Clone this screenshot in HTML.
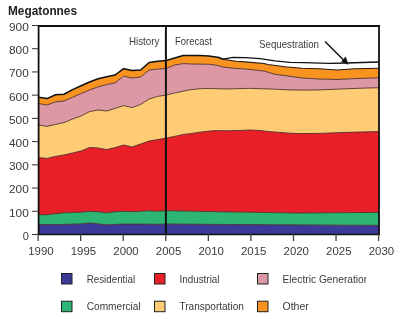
<!DOCTYPE html>
<html><head><meta charset="utf-8"><style>
html,body{margin:0;padding:0;background:#fff;width:400px;height:319px;overflow:hidden}
svg{display:block;will-change:transform}
.t{font-family:"Liberation Sans",sans-serif;font-size:11px;fill:#3a3a3a}
.b{font-family:"Liberation Sans",sans-serif;font-size:12px;font-weight:bold;fill:#222}
</style></head><body>
<svg width="400" height="319" viewBox="0 0 400 319">
<rect width="400" height="319" fill="#fff"/>
<polygon points="38.50,97.20 47.01,98.60 55.52,94.80 64.04,94.30 72.55,89.60 81.06,85.80 89.57,82.00 98.09,78.80 106.60,76.80 115.11,75.00 123.62,68.70 132.14,70.60 140.65,70.00 149.16,62.50 157.67,61.30 166.19,60.60 174.70,58.00 183.21,55.40 191.72,55.40 200.24,55.50 208.75,55.90 214.00,56.70 219.00,57.50 223.00,59.30 236.00,61.30 245.00,61.90 264.00,63.50 268.00,64.50 285.00,66.70 302.00,68.30 319.00,68.80 337.00,70.00 355.00,68.80 379.00,68.30 379.00,77.80 355.00,78.60 337.00,79.50 319.00,79.00 302.00,78.00 285.00,75.60 275.00,74.30 264.00,71.00 245.00,69.00 236.00,68.50 223.00,67.00 218.00,65.50 214.00,64.80 208.75,64.30 191.72,64.00 183.21,63.60 174.70,65.00 166.19,68.40 157.67,69.10 149.16,70.00 140.65,77.00 132.14,78.00 123.62,76.20 115.11,82.80 106.60,84.60 98.09,86.80 89.57,90.00 81.06,93.50 72.55,97.30 64.04,101.00 55.52,101.80 47.01,105.00 38.50,103.60" fill="#f7931e"/><polygon points="38.50,103.60 47.01,105.00 55.52,101.80 64.04,101.00 72.55,97.30 81.06,93.50 89.57,90.00 98.09,86.80 106.60,84.60 115.11,82.80 123.62,76.20 132.14,78.00 140.65,77.00 149.16,70.00 157.67,69.10 166.19,68.40 174.70,65.00 183.21,63.60 191.72,64.00 208.75,64.30 214.00,64.80 218.00,65.50 223.00,67.00 236.00,68.50 245.00,69.00 264.00,71.00 275.00,74.30 285.00,75.60 302.00,78.00 319.00,79.00 337.00,79.50 355.00,78.60 379.00,77.80 379.00,87.70 355.00,88.40 337.00,89.20 320.00,89.90 305.00,90.10 290.00,89.90 275.00,89.20 251.31,88.40 246.00,88.40 226.00,89.00 208.75,88.50 200.24,88.70 190.00,89.80 183.21,91.20 174.70,93.00 166.19,95.00 157.67,96.40 149.16,99.00 140.65,104.40 132.14,107.60 123.62,105.60 115.11,108.40 106.60,111.00 98.09,110.00 89.57,111.60 81.06,116.00 72.55,119.00 64.04,122.60 55.52,124.40 47.01,126.40 38.50,125.00" fill="#dd98a5"/><polygon points="38.50,125.00 47.01,126.40 55.52,124.40 64.04,122.60 72.55,119.00 81.06,116.00 89.57,111.60 98.09,110.00 106.60,111.00 115.11,108.40 123.62,105.60 132.14,107.60 140.65,104.40 149.16,99.00 157.67,96.40 166.19,95.00 174.70,93.00 183.21,91.20 190.00,89.80 200.24,88.70 208.75,88.50 226.00,89.00 246.00,88.40 251.31,88.40 275.00,89.20 290.00,89.90 305.00,90.10 320.00,89.90 337.00,89.20 355.00,88.40 379.00,87.70 379.00,131.60 360.00,132.00 340.00,132.60 320.00,133.40 300.00,133.60 290.00,133.20 280.00,132.40 270.00,131.70 260.00,130.50 250.00,130.00 240.00,130.50 225.00,130.80 216.00,130.60 210.00,131.00 200.00,132.20 190.00,133.70 183.21,134.40 174.70,136.40 166.19,138.00 157.67,139.60 149.16,141.00 140.65,144.00 132.14,147.00 123.62,145.00 115.11,147.60 106.60,149.60 98.09,148.00 89.57,147.40 81.06,151.00 72.55,153.00 64.04,155.00 55.52,156.40 47.01,158.40 38.50,157.60" fill="#fecc75"/><polygon points="38.50,157.60 47.01,158.40 55.52,156.40 64.04,155.00 72.55,153.00 81.06,151.00 89.57,147.40 98.09,148.00 106.60,149.60 115.11,147.60 123.62,145.00 132.14,147.00 140.65,144.00 149.16,141.00 157.67,139.60 166.19,138.00 174.70,136.40 183.21,134.40 190.00,133.70 200.00,132.20 210.00,131.00 216.00,130.60 225.00,130.80 240.00,130.50 250.00,130.00 260.00,130.50 270.00,131.70 280.00,132.40 290.00,133.20 300.00,133.60 320.00,133.40 340.00,132.60 360.00,132.00 379.00,131.60 379.00,212.40 296.00,213.00 216.00,211.70 186.00,211.00 166.00,210.70 156.00,211.30 149.16,210.70 140.65,211.30 132.14,211.70 123.62,211.30 115.11,211.70 106.60,212.80 98.09,211.70 89.57,211.30 81.06,212.20 72.55,212.50 64.04,212.80 55.52,213.70 47.01,214.70 38.50,214.70" fill="#e91f27"/><polygon points="38.50,214.70 47.01,214.70 55.52,213.70 64.04,212.80 72.55,212.50 81.06,212.20 89.57,211.30 98.09,211.70 106.60,212.80 115.11,211.70 123.62,211.30 132.14,211.70 140.65,211.30 149.16,210.70 156.00,211.30 166.00,210.70 186.00,211.00 216.00,211.70 296.00,213.00 379.00,212.40 379.00,225.40 296.00,224.90 216.00,224.40 166.00,224.00 156.00,224.30 140.65,224.10 123.62,224.10 106.60,224.80 89.57,223.00 81.06,223.90 64.04,224.40 38.50,224.70" fill="#2db574"/><polygon points="38.50,224.70 64.04,224.40 81.06,223.90 89.57,223.00 106.60,224.80 123.62,224.10 140.65,224.10 156.00,224.30 166.00,224.00 216.00,224.40 296.00,224.90 379.00,225.40 379.00,234.50 38.60,234.50" fill="#3b3a98"/><polyline points="38.50,224.70 64.04,224.40 81.06,223.90 89.57,223.00 106.60,224.80 123.62,224.10 140.65,224.10 156.00,224.30 166.00,224.00 216.00,224.40 296.00,224.90 379.00,225.40" fill="none" stroke="#4a2a24" stroke-width="0.95" stroke-opacity="0.9"/><polyline points="38.50,214.70 47.01,214.70 55.52,213.70 64.04,212.80 72.55,212.50 81.06,212.20 89.57,211.30 98.09,211.70 106.60,212.80 115.11,211.70 123.62,211.30 132.14,211.70 140.65,211.30 149.16,210.70 156.00,211.30 166.00,210.70 186.00,211.00 216.00,211.70 296.00,213.00 379.00,212.40" fill="none" stroke="#4a2a24" stroke-width="0.95" stroke-opacity="0.9"/><polyline points="38.50,157.60 47.01,158.40 55.52,156.40 64.04,155.00 72.55,153.00 81.06,151.00 89.57,147.40 98.09,148.00 106.60,149.60 115.11,147.60 123.62,145.00 132.14,147.00 140.65,144.00 149.16,141.00 157.67,139.60 166.19,138.00 174.70,136.40 183.21,134.40 190.00,133.70 200.00,132.20 210.00,131.00 216.00,130.60 225.00,130.80 240.00,130.50 250.00,130.00 260.00,130.50 270.00,131.70 280.00,132.40 290.00,133.20 300.00,133.60 320.00,133.40 340.00,132.60 360.00,132.00 379.00,131.60" fill="none" stroke="#4a2a24" stroke-width="0.95" stroke-opacity="0.9"/><polyline points="38.50,125.00 47.01,126.40 55.52,124.40 64.04,122.60 72.55,119.00 81.06,116.00 89.57,111.60 98.09,110.00 106.60,111.00 115.11,108.40 123.62,105.60 132.14,107.60 140.65,104.40 149.16,99.00 157.67,96.40 166.19,95.00 174.70,93.00 183.21,91.20 190.00,89.80 200.24,88.70 208.75,88.50 226.00,89.00 246.00,88.40 251.31,88.40 275.00,89.20 290.00,89.90 305.00,90.10 320.00,89.90 337.00,89.20 355.00,88.40 379.00,87.70" fill="none" stroke="#4a2a24" stroke-width="0.95" stroke-opacity="0.9"/><polyline points="38.50,103.60 47.01,105.00 55.52,101.80 64.04,101.00 72.55,97.30 81.06,93.50 89.57,90.00 98.09,86.80 106.60,84.60 115.11,82.80 123.62,76.20 132.14,78.00 140.65,77.00 149.16,70.00 157.67,69.10 166.19,68.40 174.70,65.00 183.21,63.60 191.72,64.00 208.75,64.30 214.00,64.80 218.00,65.50 223.00,67.00 236.00,68.50 245.00,69.00 264.00,71.00 275.00,74.30 285.00,75.60 302.00,78.00 319.00,79.00 337.00,79.50 355.00,78.60 379.00,77.80" fill="none" stroke="#4a2a24" stroke-width="0.95" stroke-opacity="0.9"/><polyline points="38.50,97.20 47.01,98.60 55.52,94.80 64.04,94.30 72.55,89.60 81.06,85.80 89.57,82.00 98.09,78.80 106.60,76.80 115.11,75.00 123.62,68.70 132.14,70.60 140.65,70.00 149.16,62.50 157.67,61.30 166.19,60.60 174.70,58.00 183.21,55.40 191.72,55.40 200.24,55.50 208.75,55.90 214.00,56.70 219.00,57.50 223.00,59.30" fill="none" stroke="#111" stroke-width="1.55" stroke-linejoin="round"/><polyline points="223.00,59.30 236.00,61.30 245.00,61.90 264.00,63.50 268.00,64.50 285.00,66.70 302.00,68.30 319.00,68.80 337.00,70.00 355.00,68.80 379.00,68.30" fill="none" stroke="#2a1a10" stroke-width="1.1"/><polyline points="223.00,59.10 233.00,57.30 245.00,57.60 260.00,58.60 275.00,60.80 290.00,62.30 305.00,62.60 320.00,63.10 330.00,63.30 346.00,63.00 379.00,62.00" fill="none" stroke="#111" stroke-width="1.3"/>

<line x1="38.6" y1="25" x2="38.6" y2="235" stroke="#111" stroke-width="1.8"/>
<line x1="379.0" y1="25" x2="379.0" y2="235" stroke="#111" stroke-width="1.8"/>
<line x1="38" y1="26" x2="380" y2="26" stroke="#111" stroke-width="1.8"/>
<line x1="38" y1="234.5" x2="380" y2="234.5" stroke="#111" stroke-width="1.4"/>
<line x1="165.9" y1="25" x2="165.9" y2="235" stroke="#111" stroke-width="2"/>

<line x1="32" y1="234.50" x2="38" y2="234.50" stroke="#333" stroke-width="1"/><text x="28.8" y="239.90" text-anchor="end" class="t">0</text><line x1="32" y1="211.28" x2="38" y2="211.28" stroke="#333" stroke-width="1"/><text x="28.8" y="216.68" text-anchor="end" textLength="19.8" lengthAdjust="spacingAndGlyphs" class="t">100</text><line x1="32" y1="188.06" x2="38" y2="188.06" stroke="#333" stroke-width="1"/><text x="28.8" y="193.46" text-anchor="end" textLength="19.8" lengthAdjust="spacingAndGlyphs" class="t">200</text><line x1="32" y1="164.83" x2="38" y2="164.83" stroke="#333" stroke-width="1"/><text x="28.8" y="170.23" text-anchor="end" textLength="19.8" lengthAdjust="spacingAndGlyphs" class="t">300</text><line x1="32" y1="141.61" x2="38" y2="141.61" stroke="#333" stroke-width="1"/><text x="28.8" y="147.01" text-anchor="end" textLength="19.8" lengthAdjust="spacingAndGlyphs" class="t">400</text><line x1="32" y1="118.39" x2="38" y2="118.39" stroke="#333" stroke-width="1"/><text x="28.8" y="123.79" text-anchor="end" textLength="19.8" lengthAdjust="spacingAndGlyphs" class="t">500</text><line x1="32" y1="95.17" x2="38" y2="95.17" stroke="#333" stroke-width="1"/><text x="28.8" y="100.57" text-anchor="end" textLength="19.8" lengthAdjust="spacingAndGlyphs" class="t">600</text><line x1="32" y1="71.95" x2="38" y2="71.95" stroke="#333" stroke-width="1"/><text x="28.8" y="77.35" text-anchor="end" textLength="19.8" lengthAdjust="spacingAndGlyphs" class="t">700</text><line x1="32" y1="48.72" x2="38" y2="48.72" stroke="#333" stroke-width="1"/><text x="28.8" y="54.12" text-anchor="end" textLength="19.8" lengthAdjust="spacingAndGlyphs" class="t">800</text><line x1="32" y1="25.50" x2="38" y2="25.50" stroke="#333" stroke-width="1"/><text x="28.8" y="30.90" text-anchor="end" textLength="19.8" lengthAdjust="spacingAndGlyphs" class="t">900</text><line x1="38.10" y1="234" x2="38.10" y2="241" stroke="#444" stroke-width="1.3"/><text x="40.90" y="255.4" text-anchor="middle" textLength="25.4" lengthAdjust="spacingAndGlyphs" class="t">1990</text><line x1="80.66" y1="234" x2="80.66" y2="241" stroke="#444" stroke-width="1.3"/><text x="83.46" y="255.4" text-anchor="middle" textLength="25.4" lengthAdjust="spacingAndGlyphs" class="t">1995</text><line x1="123.22" y1="234" x2="123.22" y2="241" stroke="#444" stroke-width="1.3"/><text x="126.03" y="255.4" text-anchor="middle" textLength="25.4" lengthAdjust="spacingAndGlyphs" class="t">2000</text><line x1="165.79" y1="234" x2="165.79" y2="241" stroke="#444" stroke-width="1.3"/><text x="168.59" y="255.4" text-anchor="middle" textLength="25.4" lengthAdjust="spacingAndGlyphs" class="t">2005</text><line x1="208.35" y1="234" x2="208.35" y2="241" stroke="#444" stroke-width="1.3"/><text x="211.15" y="255.4" text-anchor="middle" textLength="25.4" lengthAdjust="spacingAndGlyphs" class="t">2010</text><line x1="250.91" y1="234" x2="250.91" y2="241" stroke="#444" stroke-width="1.3"/><text x="253.71" y="255.4" text-anchor="middle" textLength="25.4" lengthAdjust="spacingAndGlyphs" class="t">2015</text><line x1="293.48" y1="234" x2="293.48" y2="241" stroke="#444" stroke-width="1.3"/><text x="296.27" y="255.4" text-anchor="middle" textLength="25.4" lengthAdjust="spacingAndGlyphs" class="t">2020</text><line x1="336.04" y1="234" x2="336.04" y2="241" stroke="#444" stroke-width="1.3"/><text x="338.84" y="255.4" text-anchor="middle" textLength="25.4" lengthAdjust="spacingAndGlyphs" class="t">2025</text><line x1="378.60" y1="234" x2="378.60" y2="241" stroke="#444" stroke-width="1.3"/><text x="381.40" y="255.4" text-anchor="middle" textLength="25.4" lengthAdjust="spacingAndGlyphs" class="t">2030</text>

<text x="8" y="14.6" class="b" textLength="69" lengthAdjust="spacingAndGlyphs">Megatonnes</text>
<text x="129" y="44.8" class="t" textLength="30.4" lengthAdjust="spacingAndGlyphs">History</text>
<text x="175" y="44.6" class="t" textLength="36.9" lengthAdjust="spacingAndGlyphs">Forecast</text>
<text x="259" y="47.5" class="t" textLength="60" lengthAdjust="spacingAndGlyphs">Sequestration</text>
<line x1="325" y1="41.5" x2="344" y2="60.5" stroke="#111" stroke-width="1.5"/>
<polygon points="345.6,57 341.6,61.6 348,64.3" fill="#111" stroke="#111" stroke-width="0.6"/>

<defs><clipPath id="cl"><rect x="0" y="0" width="366.5" height="319"/></clipPath></defs>
<g clip-path="url(#cl)"><rect x="61.5" y="273.5" width="10.5" height="10.5" fill="#3b3a98" stroke="#222" stroke-width="1"/><text x="86.75" y="282.70" class="t" textLength="48.3" lengthAdjust="spacingAndGlyphs">Residential</text><rect x="154.5" y="273.5" width="10.5" height="10.5" fill="#e91f27" stroke="#222" stroke-width="1"/><text x="179.5" y="282.70" class="t" textLength="40" lengthAdjust="spacingAndGlyphs">Industrial</text><rect x="257.5" y="273.5" width="10.5" height="10.5" fill="#dd98a5" stroke="#222" stroke-width="1"/><text x="282.5" y="282.70" class="t" textLength="87" lengthAdjust="spacingAndGlyphs">Electric Generation</text><rect x="61.5" y="301.2" width="10.5" height="10.5" fill="#2db574" stroke="#222" stroke-width="1"/><text x="86.75" y="310.30" class="t" textLength="54" lengthAdjust="spacingAndGlyphs">Commercial</text><rect x="154.5" y="301.2" width="10.5" height="10.5" fill="#fecc75" stroke="#222" stroke-width="1"/><text x="179.5" y="310.30" class="t" textLength="64.3" lengthAdjust="spacingAndGlyphs">Transportation</text><rect x="257.5" y="301.2" width="10.5" height="10.5" fill="#f7931e" stroke="#222" stroke-width="1"/><text x="282.5" y="310.30" class="t" textLength="26.3" lengthAdjust="spacingAndGlyphs">Other</text></g>
</svg>
</body></html>
